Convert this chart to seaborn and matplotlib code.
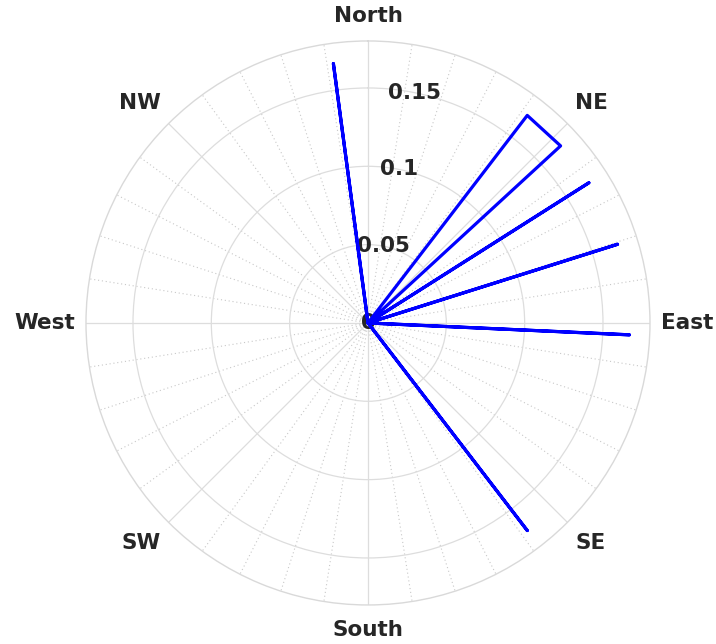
import numpy as np
import pandas as pd
import seaborn as sns
import matplotlib.pyplot as plt

# --- datos (rumbo en grados desde el norte, sentido horario) ---
spike_bearing = [352.4, 57.6, 72.5, 92.6, 142.5]
spike_r = [0.167, 0.167, 0.167, 0.167, 0.167]
wedge_bearing = [37.5, 47.4]
wedge_r = [0.167, 0.167]

dir_angles = [0, 45, 90, 135, 180, 225, 270, 315]
dir_labels = ['North', 'NE', 'East', 'SE', 'South', 'SW', 'West', 'NW']
r_ticks = [0.05, 0.1, 0.15]
r_tick_labels = ['0.05', '0.1', '0.15']
r_max = 0.18

# --- construir el trazo (origen -> punta -> origen) ---
th, rr = [], []
for b, r in zip(spike_bearing, spike_r):
    th += [b, b, b]
    rr += [0, r, 0]
th += [wedge_bearing[0], wedge_bearing[0], wedge_bearing[1], wedge_bearing[1]]
rr += [0, wedge_r[0], wedge_r[1], 0]
df = pd.DataFrame({'theta': np.deg2rad(th), 'r': rr})

sns.set_style('white')
plt.rcParams['font.family'] = ['DejaVu Sans']

fig = plt.figure(figsize=(7.16, 6.44), dpi=100)
ax = fig.add_axes([0.1201, 0.0606, 0.7877, 0.8758], projection='polar')
ax.set_theta_zero_location('N')
ax.set_theta_direction(-1)

sns.lineplot(data=df, x='theta', y='r', sort=False, estimator=None,
             color='#0000ff', linewidth=2.3, ax=ax, zorder=5)

ax.set_ylim(0, r_max)
ax.set_yticks(r_ticks)
ax.set_yticklabels([])
ax.set_xticks(np.deg2rad(dir_angles))
ax.set_xticklabels([])
ax.set_xticks(np.deg2rad(np.arange(0, 360, 9)), minor=True)
ax.tick_params(axis='x', which='both', length=0)
ax.grid(which='major', color='#dddddd', linewidth=0.9, linestyle='-')
ax.grid(which='minor', axis='x', color='#c8c8c8', linewidth=0.8, linestyle=(0, (1, 2.5)))
ax.spines['polar'].set_color('#d9d9d9')
ax.spines['polar'].set_linewidth(1.0)
ax.set_xlabel('')
ax.set_ylabel('')

# etiquetas de dirección, fuera del círculo
for a, lab in zip(dir_angles, dir_labels):
    s, c = np.sin(np.deg2rad(a)), np.cos(np.deg2rad(a))
    ha = 'left' if s > 0.3 else ('right' if s < -0.3 else 'center')
    va = 'bottom' if c > 0.3 else ('top' if c < -0.3 else 'center')
    ax.annotate(lab, xy=(np.deg2rad(a), r_max), xytext=(11 * s, 15 * c),
                textcoords='offset pixels', ha=ha, va=va, fontsize=15.5,
                fontweight='bold', color='#262626', annotation_clip=False)

# etiquetas radiales
for v, lab in zip(r_ticks, r_tick_labels):
    ax.text(np.deg2rad(11.5), v, lab, ha='center', va='center', fontsize=15.5,
            fontweight='bold', color='#262626', zorder=3)
ax.text(0, 0, '0', ha='center', va='center', fontsize=15.5,
        fontweight='bold', color='#262626', zorder=3)

fig.savefig('out.png', dpi=100)
